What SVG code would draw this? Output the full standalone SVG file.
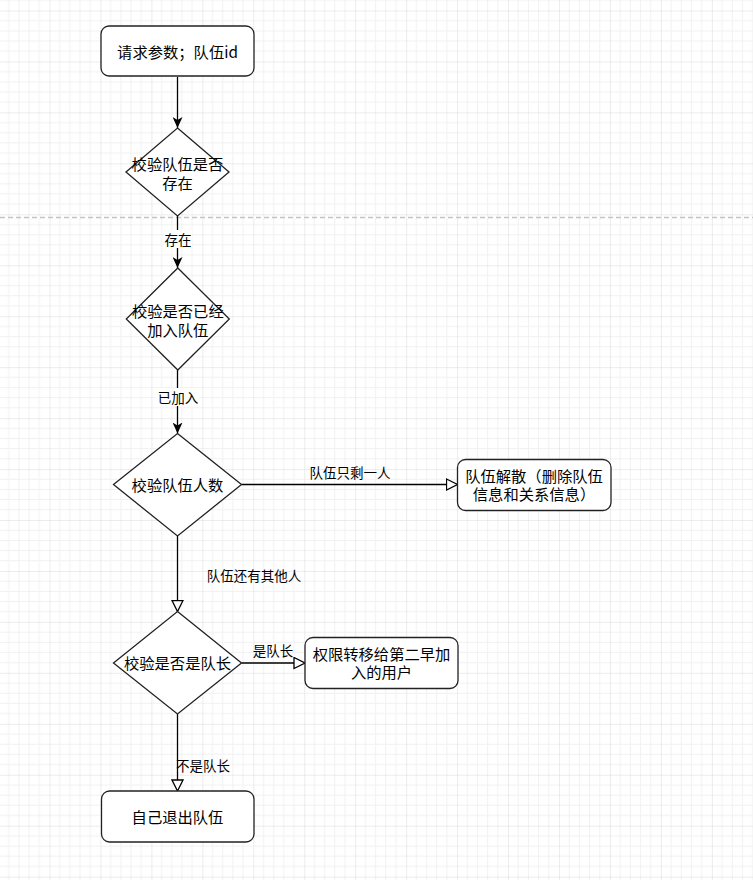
<svg xmlns="http://www.w3.org/2000/svg" width="753" height="880" viewBox="0 0 753 880">
<defs>
<pattern id="grid" patternUnits="userSpaceOnUse" x="-1.45" y="10.5" width="50.95" height="50.95">
<path d="M10.19,0V50.95M20.38,0V50.95M30.57,0V50.95M40.76,0V50.95M0,10.19H50.95M0,20.38H50.95M0,30.57H50.95M0,40.76H50.95" stroke="#f1f1f1" stroke-width="1" fill="none"/>
<path d="M0,0V50.95M0,0H50.95" stroke="#d9d9d9" stroke-width="1" fill="none"/>
</pattern>
<marker id="filled" viewBox="0 0 11 10" refX="11" refY="5" markerWidth="11" markerHeight="10" markerUnits="userSpaceOnUse" orient="auto">
<path d="M0,0 L11,5 L0,10 L3,5 Z" fill="#000"/>
</marker>
<marker id="open" viewBox="0 0 13 13" refX="12" refY="6.5" markerWidth="13" markerHeight="13" markerUnits="userSpaceOnUse" orient="auto">
<path d="M1,1 L12,6.5 L1,12 Z" fill="#fff" stroke="#000" stroke-width="1.3"/>
</marker>
</defs>
<style>
.node{fill:#fff;stroke:#222;stroke-width:1.3}
.edge{fill:none;stroke:#000;stroke-width:1.3}
text{font-family:"Microsoft YaHei","Noto Sans CJK SC","Noto Sans",sans-serif;font-size:15.3px;fill:#000;text-anchor:middle;dominant-baseline:central}
.lbl{font-size:13.5px}
</style>
<rect width="753" height="880" fill="#fff"/>
<rect width="753" height="880" fill="url(#grid)"/>
<line x1="0" y1="217.5" x2="753" y2="217.5" stroke="#c4c4c4" stroke-width="1.3" stroke-dasharray="5 3"/>

<g id="connectors">
<path class="edge" d="M177.5,77 V128" marker-end="url(#filled)"/>
<path class="edge" d="M177.5,216 V268" marker-end="url(#filled)"/>
<path class="edge" d="M177.5,370 V433.5" marker-end="url(#filled)"/>
<path class="edge" d="M241.5,484.5 H457.5" marker-end="url(#open)"/>
<path class="edge" d="M177.5,536 V611.5" marker-end="url(#open)"/>
<path class="edge" d="M241.5,663 H305" marker-end="url(#open)"/>
<path class="edge" d="M177.5,714 V791" marker-end="url(#open)"/>
<rect x="164" y="230" width="28" height="18" fill="#fff"/>
<text class="lbl" x="178" y="239">存在</text>
<rect x="157" y="388" width="42" height="18" fill="#fff"/>
<text class="lbl" x="178" y="396.5">已加入</text>
<text class="lbl" x="350" y="472">队伍只剩一人</text>
<text class="lbl" x="254" y="575">队伍还有其他人</text>
<text class="lbl" x="273" y="650">是队长</text>
<text class="lbl" x="203" y="765">不是队长</text>
</g>

<g id="n1">
<rect class="node" x="101" y="26" width="153" height="50" rx="8"/>
<text x="177.5" y="51">请求参数；队伍id</text>
</g>
<g id="n2">
<polygon class="node" points="177.5,128 229,172 177.5,216 126,172"/>
<text x="177.5" y="163">校验队伍是否</text>
<text x="177.5" y="182">存在</text>
</g>
<g id="n3">
<polygon class="node" points="177.8,268 229.3,319 177.8,370 126.3,319"/>
<text x="177.8" y="310">校验是否已经</text>
<text x="177.8" y="329">加入队伍</text>
</g>
<g id="n4">
<polygon class="node" points="177.5,433.5 241.5,484.5 177.5,536 113.5,484.5"/>
<text x="177.5" y="484">校验队伍人数</text>
</g>
<g id="n5">
<rect class="node" x="457.5" y="459.5" width="153.5" height="51" rx="8"/>
<text x="534" y="475">队伍解散（删除队伍</text>
<text x="534" y="493">信息和关系信息）</text>
</g>
<g id="n6">
<polygon class="node" points="177.5,611.5 241.5,663 177.5,714 113.5,663"/>
<text x="177.5" y="662">校验是否是队长</text>
</g>
<g id="n7">
<rect class="node" x="305" y="637.5" width="153" height="51" rx="8"/>
<text x="381.5" y="653">权限转移给第二早加</text>
<text x="381.5" y="671">入的用户</text>
</g>
<g id="n8">
<rect class="node" x="101.5" y="791" width="152.5" height="51" rx="8"/>
<text x="177.5" y="816">自己退出队伍</text>
</g>
</svg>
